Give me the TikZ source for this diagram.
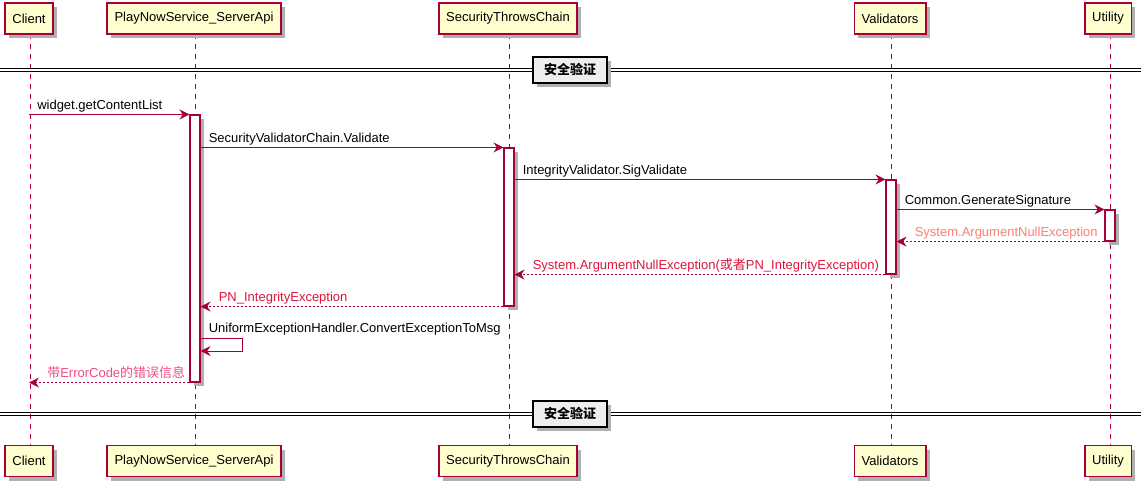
\documentclass[tikz,border=0pt]{standalone}
\usepackage{fontspec}
\setmainfont{Liberation Sans}
\newfontfamily\cjk{Noto Sans CJK SC}
\usetikzlibrary{arrows.meta,shadows}
\definecolor{umlred}{HTML}{A80036}
\definecolor{umlfill}{HTML}{FEFECE}
\definecolor{retred}{HTML}{DC143C}
\definecolor{salmonc}{HTML}{FA8072}
\definecolor{pinkred}{HTML}{EB4F7E}
\definecolor{divfill}{HTML}{EEEEEE}
\definecolor{shadowc}{HTML}{B0B0B0}
\tikzset{
  umlshadow/.style={drop shadow={shadow xshift=3pt,shadow yshift=-3pt,fill=shadowc,opacity=1}},
  part/.style={draw=umlred,fill=umlfill,line width=1.1pt,minimum height=23.25pt,inner xsep=5.5pt,inner ysep=0pt,umlshadow},
  actbar/.style={draw=umlred,fill=white,line width=0.8pt,minimum width=7.5pt,inner sep=0pt,umlshadow},
  lifeline/.style={draw=umlred,line width=0.75pt,dash pattern=on 3.75pt off 3.75pt},
  msg/.style={draw=umlred,line width=0.75pt,-{Stealth[length=7.5pt,width=7.5pt,inset=2.5pt]}},
  ret/.style={msg,dash pattern=on 1.5pt off 1.5pt},
  lbl/.style={anchor=base west,inner sep=0pt},
  divbox/.style={draw=black,fill=divfill,line width=1.4pt,minimum width=56pt,minimum height=20pt,inner sep=0pt,font=\cjk\bfseries\fontsize{9.75}{11}\selectfont,umlshadow},
}
\begin{document}
\begin{tikzpicture}[x=0.75pt,y=-0.75pt,font=\fontsize{9.75}{11}\selectfont]
\useasboundingbox (0,0) rectangle (1141,483);
% lifelines (drawn first)
\coordinate (lc1) at (30,34);  \coordinate (lc2) at (30,445);
\coordinate (lp1) at (195,34); \coordinate (lp2) at (195,445);
\coordinate (ls1) at (509,34); \coordinate (ls2) at (509,445);
\coordinate (lv1) at (891,34); \coordinate (lv2) at (891,445);
\coordinate (lu1) at (1110,34); \coordinate (lu2) at (1110,445);
\draw[lifeline] (lc1) -- (lc2);
\draw[lifeline] (lp1) -- (lp2);
\draw[lifeline] (ls1) -- (ls2);
\draw[lifeline] (lv1) -- (lv2);
\draw[lifeline] (lu1) -- (lu2);
% participants top
\node[part] (tC) at (29,18.5) {Client};
\node[part] (tP) at (194,18.5) {PlayNowService\_ServerApi};
\node[part] (tS) at (508,18.5) {SecurityThrowsChain};
\node[part] (tV) at (890,18.5) {Validators};
\node[part] (tU) at (1108,18.5) {Utility};
% participants bottom
\node[part] (bC) at (29,461) {Client};
\node[part] (bP) at (194,461) {PlayNowService\_ServerApi};
\node[part] (bS) at (508,461) {SecurityThrowsChain};
\node[part] (bV) at (890,461) {Validators};
\node[part] (bU) at (1108,461) {Utility};
% dividers
\coordinate (d1a) at (0,68.5); \coordinate (d1b) at (1141,68.5);
\coordinate (d1c) at (0,71.5); \coordinate (d1d) at (1141,71.5);
\draw[line width=0.75pt] (d1a) -- (d1b);
\draw[line width=0.75pt] (d1c) -- (d1d);
\node[divbox] (div1) at (570,70) {安全验证};
\coordinate (d2a) at (0,412.5); \coordinate (d2b) at (1141,412.5);
\coordinate (d2c) at (0,415.5); \coordinate (d2d) at (1141,415.5);
\draw[line width=0.75pt] (d2a) -- (d2b);
\draw[line width=0.75pt] (d2c) -- (d2d);
\node[divbox] (div2) at (570,414) {安全验证};
% activation bars
\node[actbar,minimum height=200.25pt] (aP) at (195,248.5) {};
\node[actbar,minimum height=118.5pt] (aS) at (509,227) {};
\node[actbar,minimum height=70.5pt] (aV) at (891,227) {};
\node[actbar,minimum height=23.25pt] (aU) at (1110,225.5) {};
% messages
\draw[msg] (tC |- aP.north) -- (aP.north west);
\node[lbl] (m1) at ([xshift=6pt,yshift=3.9pt]tC |- aP.north) {widget.getContentList};
\draw[msg] (aP.east |- aS.north) -- (aS.north west);
\node[lbl] (m2) at ([xshift=6pt,yshift=3.9pt]aP.east |- aS.north) {SecurityValidatorChain.Validate};
\draw[msg] (aS.east |- aV.north) -- (aV.north west);
\node[lbl] (m3) at ([xshift=6pt,yshift=3.9pt]aS.east |- aV.north) {IntegrityValidator.SigValidate};
\draw[msg] (aV.east |- aU.north) -- (aU.north west);
\node[lbl] (m4) at ([xshift=6pt,yshift=3.9pt]aV.east |- aU.north) {Common.GenerateSignature};
\draw[ret] (aU.south west) -- (aV.east |- aU.south);
\node[lbl,text=salmonc] (m5) at ([xshift=13.5pt,yshift=3.9pt]aV.east |- aU.south) {System.ArgumentNullException};
\draw[ret] (aV.south west) -- (aS.east |- aV.south);
\node[lbl,text=retred] (m6) at ([xshift=13.5pt,yshift=3.9pt]aS.east |- aV.south) {System.ArgumentNullException({\cjk 或者}PN\_IntegrityException)};
\draw[ret] (aS.south west) -- (aP.east |- aS.south);
\node[lbl,text=retred] (m7) at ([xshift=13.5pt,yshift=3.9pt]aP.east |- aS.south) {PN\_IntegrityException};
% self message
\coordinate (s1) at (242,338);
\coordinate (s2) at (242,351);
\draw[msg] (aP.east |- s1) -- (s1) -- (s2) -- (aP.east |- s2);
\node[lbl] (m8) at ([xshift=6pt,yshift=3.9pt]aP.east |- s1) {UniformExceptionHandler.ConvertExceptionToMsg};
% final return
\draw[ret] (aP.south west) -- (tC |- aP.south);
\node[lbl,text=pinkred] (m9) at ([xshift=13.5pt,yshift=3.9pt]tC |- aP.south) {{\cjk 带}ErrorCode{\cjk 的错误信息}};
\end{tikzpicture}
\end{document}
